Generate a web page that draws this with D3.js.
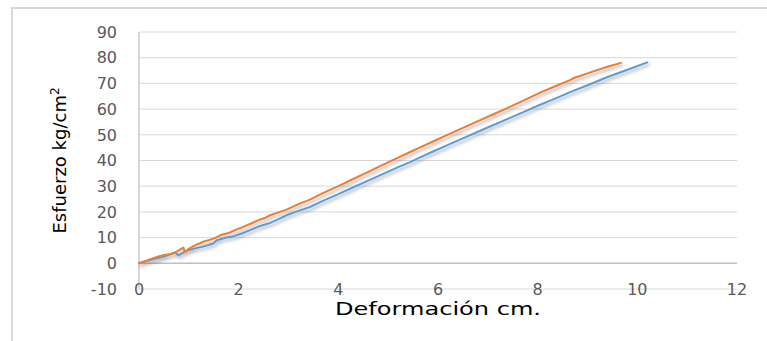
<!DOCTYPE html>
<html><head><meta charset="utf-8">
<script src="https://cdn.jsdelivr.net/npm/d3@7"></script>
<style>body{margin:0;background:#fff}svg{display:block}</style>
</head><body>
<script>
const xTicks = [0,2,4,6,8,10,12];
const yTicks = [-10,0,10,20,30,40,50,60,70,80,90];
const xTitle = "Deformación cm.";
const yTitle = "Esfuerzo kg/cm";
const seriesNames = ["Serie 1","Serie 2"];
const seriesColors = ["#ED7D31","#5B9BD5"];
const orangeX = [0,0.2,0.39,0.5,0.66,0.78,0.89,0.92,1.0,1.09,1.2,1.32,1.43,1.53,1.62,1.69,1.8,1.93,2.1,2.25,2.4,2.52,2.63,2.8,2.96,3.2,3.43,3.7,4.0,4.3,4.6,4.9,5.2,5.43,5.64,5.9,6.2,6.5,6.8,7.1,7.4,7.7,8.05,8.35,8.65,8.75,8.85,9.1,9.4,9.67];
const orangeY = [0,1.4,2.7,3.2,3.6,4.8,6.1,4.4,5.6,6.7,7.6,8.6,9.2,9.9,10.8,11.3,11.8,12.9,14.3,15.5,16.8,17.6,18.7,19.8,20.9,23.0,24.8,27.4,30.0,32.8,35.6,38.4,41.1,43.2,45.1,47.4,50.1,52.7,55.3,57.9,60.5,63.2,66.4,68.9,71.3,72.3,72.9,74.6,76.5,78.0];
const blueX = [0,0.32,0.5,0.72,0.79,0.99,1.12,1.26,1.38,1.49,1.56,1.73,1.86,2.06,2.23,2.4,2.63,2.8,2.96,3.2,3.43,3.7,4.0,4.3,4.6,4.9,5.2,5.43,5.64,5.9,6.2,6.5,6.8,7.1,7.4,7.7,8.05,8.35,8.65,9.0,9.39,9.8,10.2];
const blueY = [0,1.8,2.6,4.2,3.1,5.1,5.8,6.4,7.0,7.7,9.0,9.9,10.3,11.6,12.9,14.3,15.7,17.2,18.7,20.4,21.9,24.4,26.9,29.6,32.2,34.8,37.4,39.3,41.2,43.5,46.1,48.6,51.2,53.7,56.2,58.7,61.7,64.1,66.6,69.3,72.4,75.3,78.2];

const W = 767, H = 341;
const svg = d3.select("body").append("svg").attr("width", W).attr("height", H);
const font = "'DejaVu Sans', sans-serif";

const defs = svg.append("defs");
const f = defs.append("filter").attr("id","sh").attr("x","-10%").attr("y","-10%").attr("width","130%").attr("height","130%");
f.append("feDropShadow").attr("dx",1.5).attr("dy",2.5).attr("stdDeviation",1.5).attr("flood-color","#000").attr("flood-opacity",0.3);

svg.append("rect").attr("x",12).attr("y",8).attr("width",900).attr("height",500)
  .attr("fill","#fff").attr("stroke","#d9d9d9").attr("stroke-width",2);

const x = d3.scaleLinear().domain([0,12]).range([139,737]);
const y = d3.scaleLinear().domain([-10,90]).range([289,32]);

// gridlines
svg.append("g").selectAll("line").data(yTicks).join("line")
  .attr("x1",x(0)).attr("x2",x(12)).attr("y1",d=>y(d)).attr("y2",d=>y(d))
  .attr("stroke",d=>d===0?"#bfbfbf":"#d9d9d9").attr("stroke-width",d=>d===0?1.5:1);
svg.append("line").attr("x1",x(0)).attr("x2",x(0)).attr("y1",y(90)).attr("y2",y(-10))
  .attr("stroke","#bfbfbf").attr("stroke-width",1.2);

// y tick labels
svg.append("g").selectAll("text").data(yTicks).join("text")
  .attr("x",117).attr("y",d=>y(d)).attr("dy","0.36em").attr("text-anchor","end")
  .attr("font-family",font).attr("font-size",16).attr("fill","#595959").text(d=>d);
// x tick labels
svg.append("g").selectAll("text").data(xTicks).join("text")
  .attr("x",d=>x(d)).attr("y",289).attr("dy","0.36em").attr("text-anchor","middle")
  .attr("font-family",font).attr("font-size",16).attr("fill","#595959").text(d=>d);

// titles
svg.append("text").attr("x",(x(0)+x(12))/2 - 103).attr("y",315)
  .attr("textLength",206).attr("lengthAdjust","spacingAndGlyphs")
  .attr("font-family",font).attr("font-size",18).attr("fill","#000").text(xTitle);
const yt = svg.append("text").attr("transform",`translate(66,${(y(90)+y(-10))/2}) rotate(-90)`)
  .attr("text-anchor","middle").attr("font-family",font).attr("font-size",18).attr("fill","#000");
yt.append("tspan").text(yTitle);
yt.append("tspan").attr("dy",-7).attr("font-size",12).text("2");

// lines
const line = d3.line().x(d=>x(d[0])).y(d=>y(d[1]));
const data = [d3.zip(blueX, blueY), d3.zip(orangeX, orangeY)];
const cols = [seriesColors[1], seriesColors[0]];
svg.append("g").attr("filter","url(#sh)").selectAll("path").data(data).join("path")
  .attr("d",line).attr("fill","none").attr("stroke",(d,i)=>cols[i]).attr("stroke-width",2)
  .attr("stroke-linejoin","round").attr("stroke-linecap","round");
</script>
</body></html>
